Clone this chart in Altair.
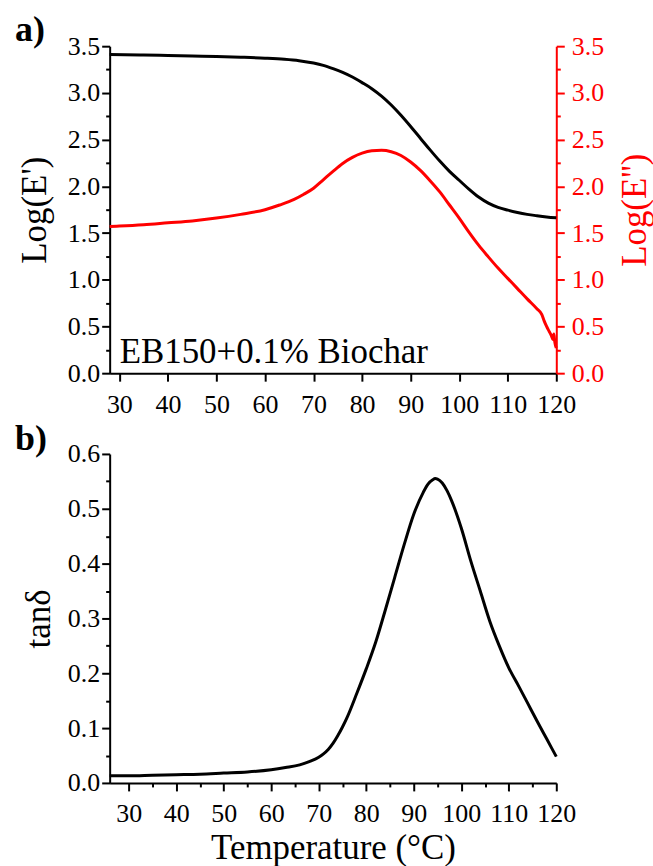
import altair as alt
import pandas as pd

# ---- data ----
t_e1 = [28, 35, 40, 45, 50, 55, 60, 64, 67, 70, 72, 74, 76, 78, 80, 82, 84, 86, 88, 90,
        92, 94, 96, 98, 100, 102, 104, 106, 108, 110, 112, 114, 116, 118, 120]
log_e1 = [3.41, 3.405, 3.40, 3.395, 3.39, 3.382, 3.372, 3.36, 3.345, 3.32, 3.295, 3.26, 3.22,
          3.17, 3.11, 3.045, 2.965, 2.87, 2.76, 2.64, 2.515, 2.39, 2.27, 2.16, 2.065, 1.97,
          1.885, 1.82, 1.775, 1.745, 1.72, 1.70, 1.685, 1.672, 1.663]

t_e2 = [28, 30, 35, 40, 45, 50, 55, 60, 63, 66, 68, 70, 72, 74, 76, 78, 80, 82, 84, 86, 88,
        90, 92, 94, 96, 98, 100, 102, 104, 106, 108, 110, 112, 114, 116, 117, 117.5, 118,
        118.5, 119, 119.3, 119.5, 119.7, 120]
log_e2 = [1.57, 1.575, 1.59, 1.61, 1.63, 1.66, 1.70, 1.75, 1.80, 1.86, 1.915, 1.98, 2.07, 2.16,
          2.245, 2.31, 2.355, 2.38, 2.385, 2.37, 2.33, 2.26, 2.17, 2.06, 1.94, 1.80, 1.66, 1.51,
          1.37, 1.245, 1.125, 1.015, 0.905, 0.795, 0.69, 0.63, 0.56, 0.50, 0.45, 0.40, 0.36,
          0.42, 0.33, 0.27]

t_tan = [26, 30, 35, 40, 45, 50, 55, 60, 63, 66, 68, 70, 71, 72, 73, 74, 75, 76, 78, 80, 82,
         84, 86, 88, 90, 92, 93, 94, 94.5, 95, 96, 97, 98, 100, 102, 104, 106, 108, 110, 112,
         114, 116, 118, 120]
tan_d = [0.013, 0.013, 0.014, 0.015, 0.016, 0.018, 0.020, 0.024, 0.028, 0.033, 0.039, 0.047,
         0.053, 0.061, 0.072, 0.086, 0.102, 0.120, 0.163, 0.208, 0.257, 0.315, 0.375, 0.435,
         0.49, 0.53, 0.545, 0.553, 0.555, 0.554, 0.547, 0.533, 0.514, 0.465, 0.405, 0.350,
         0.295, 0.250, 0.210, 0.178, 0.145, 0.112, 0.080, 0.048]

x_ticks = list(range(30, 121, 5))
y_ticks_top = [i * 0.25 for i in range(15)]
y_ticks_bot = [round(i * 0.05, 2) for i in range(13)]

FONT = "Liberation Serif"
RED = "#ff0000"

df_e1 = pd.DataFrame({"T": t_e1, "v": log_e1})
df_e2 = pd.DataFrame({"T": t_e2, "v": log_e2})
df_tan = pd.DataFrame({"T": t_tan, "v": tan_d})
one = pd.DataFrame({"k": [0]})

def cond(test, a, b):
    return {"condition": {"test": test, "value": a}, "value": b}

x_test = "datum.value % 10 == 0"
x_axis_top = alt.Axis(values=x_ticks, title=None, labelExpr=f"{x_test} ? datum.label : ''",
                      tickSize=cond(x_test, 8, 4), labelPadding=10, labelOverlap=False,
                      labelFlush=False)
x_axis_bot = alt.Axis(values=x_ticks, title="Temperature (°C)",
                      labelExpr=f"{x_test} ? datum.label : ''",
                      tickSize=cond(x_test, 8, 4), labelPadding=10, titlePadding=4,
                      labelOverlap=False, labelFlush=False)

yt_test = "round(datum.value*100) % 50 == 0"
yb_test = "round(datum.value*100) % 10 == 0"

W = 448

e1 = alt.Chart(df_e1).mark_line(color="black", strokeWidth=3, interpolate="monotone").encode(
    x=alt.X("T:Q", scale=alt.Scale(domain=[28, 120], nice=False, zero=False), axis=x_axis_top),
    y=alt.Y("v:Q", scale=alt.Scale(domain=[0, 3.5], nice=False),
            axis=alt.Axis(values=y_ticks_top, format=".1f", title="Log(E')",
                          labelExpr=f"{yt_test} ? datum.label : ''", labelOverlap=False,
                          labelFlush=False,
                          tickSize=cond(yt_test, 8, 4), labelPadding=2, titlePadding=15)),
)

e2 = alt.Chart(df_e2).mark_line(color=RED, strokeWidth=3, interpolate="monotone").encode(
    x=alt.X("T:Q", scale=alt.Scale(domain=[28, 120], nice=False, zero=False)),
    y=alt.Y("v:Q", scale=alt.Scale(domain=[0, 3.5], nice=False),
            axis=alt.Axis(orient="right", values=y_ticks_top, format=".1f", title="Log(E'')",
                          labelExpr=f"{yt_test} ? datum.label : ''", labelOverlap=False,
                          labelFlush=False,
                          tickSize=cond(yt_test, 8, 4), labelPadding=7, titlePadding=14,
                          titleAngle=270, titleBaseline="top",
                          domainColor=RED, tickColor=RED,
                          labelColor=RED, titleColor=RED)),
)

lab_a = alt.Chart(one).mark_text(text="a)", font=FONT, fontSize=36, fontWeight="bold",
                                 align="left", baseline="alphabetic", color="black").encode(
    x=alt.value(-95), y=alt.value(-5))
note = alt.Chart(one).mark_text(text="EB150+0.1% Biochar", font=FONT, fontSize=35,
                                align="left", baseline="alphabetic", color="black").encode(
    x=alt.value(10), y=alt.value(318))

top = alt.layer(e1, e2, lab_a, note).resolve_scale(y="independent").properties(
    width=W, height=328)

tan = alt.Chart(df_tan).mark_line(color="black", strokeWidth=3, interpolate="monotone").encode(
    x=alt.X("T:Q", scale=alt.Scale(domain=[26, 120], nice=False, zero=False), axis=x_axis_bot),
    y=alt.Y("v:Q", scale=alt.Scale(domain=[0, 0.6], nice=False),
            axis=alt.Axis(values=y_ticks_bot, format=".1f", title="tanδ",
                          labelExpr=f"{yb_test} ? datum.label : ''", labelOverlap=False,
                          labelFlush=False,
                          tickSize=cond(yb_test, 8, 4), labelPadding=2, titlePadding=11)),
)
lab_b = alt.Chart(one).mark_text(text="b)", font=FONT, fontSize=36, fontWeight="bold",
                                 align="left", baseline="alphabetic", color="black").encode(
    x=alt.value(-95), y=alt.value(-4))

bottom = alt.layer(tan, lab_b).properties(width=W, height=330)

chart = alt.vconcat(top, bottom, spacing=81, bounds="flush").properties(
    padding={"left": 15, "top": 11, "right": 0, "bottom": 0},
    background="white",
).configure_view(stroke=None).configure_axis(
    grid=False, domainColor="black", domainWidth=2, tickColor="black", tickWidth=2,
    labelFont=FONT, labelFontSize=26, labelColor="black",
    titleFont=FONT, titleFontSize=35, titleFontWeight="normal", titleColor="black",
)

chart.save("out.html", embed_options={"renderer": "svg", "actions": False})
